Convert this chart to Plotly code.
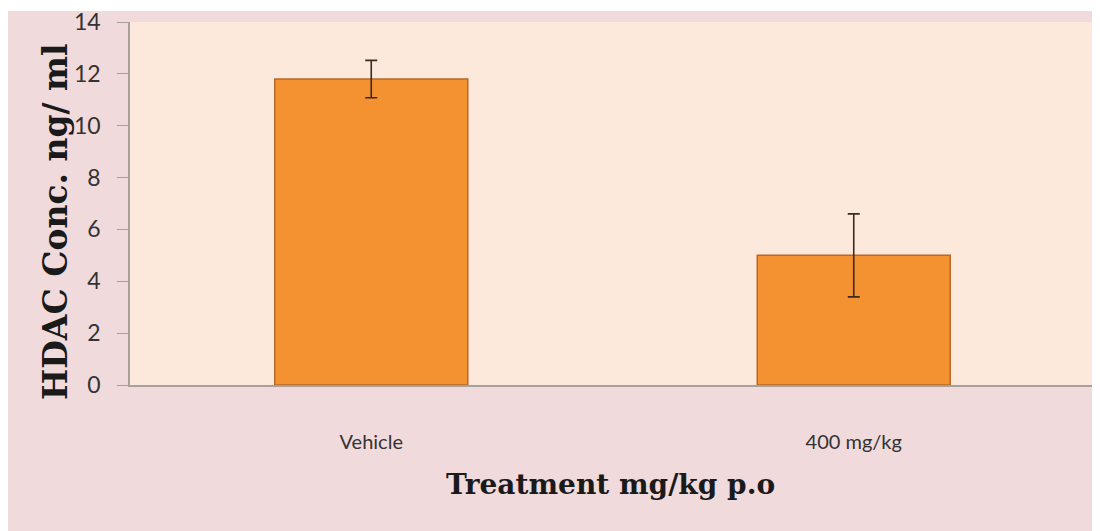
import plotly.graph_objects as go

categories = ["Vehicle", "400 mg/kg"]
values = [11.8, 5.0]
errors = [0.72, 1.6]
y_ticks = [0, 2, 4, 6, 8, 10, 12, 14]

# figure sits inside an 8px page margin
W, H = 1092, 523
L, R, T, B = 122, 5, 14, 146
PW = W - L - R
PH = H - T - B

def px(xf):
    return (xf - L) / PW

def py(yf):
    return (H - B - yf) / PH

fig = go.Figure()
fig.add_trace(go.Bar(
    x=categories, y=values, width=0.4,
    marker=dict(color="#f49130", line=dict(color="#b5682a", width=1.5)),
    error_y=dict(type="data", array=errors, visible=True, color="#3a2a20",
                 thickness=1.6, width=6),
))

fig.update_layout(
    width=W, height=H,
    margin=dict(l=L, r=R, t=T, b=B, pad=0, autoexpand=False),
    paper_bgcolor="white",
    plot_bgcolor="#fce9db",
    showlegend=False,
    shapes=[
        dict(type="rect", xref="paper", yref="paper", layer="below",
             x0=px(-1), x1=px(1089), y0=py(523), y1=py(3),
             fillcolor="#f0dadb", line=dict(width=0)),
        dict(type="rect", xref="paper", yref="paper", layer="below",
             x0=0, x1=1, y0=0, y1=1,
             fillcolor="#fce9db", line=dict(width=0)),
    ],
    annotations=[
        dict(text="<b>HDAC Conc. ng/ ml</b>", xref="paper", yref="paper",
             x=px(47), y=py(214),
             xanchor="center", yanchor="middle", textangle=-90, showarrow=False,
             font=dict(family="DejaVu Serif", size=33, color="#1a1a1a")),
        dict(text="<b>Treatment mg/kg p.o</b>", xref="paper", yref="paper",
             x=px(602), y=py(476),
             xanchor="center", yanchor="middle", showarrow=False,
             font=dict(family="DejaVu Serif", size=28, color="#1a1a1a")),
    ],
)

fig.update_yaxes(
    range=[0, 14], tickvals=y_ticks, ticktext=[str(v) for v in y_ticks],
    showgrid=False, zeroline=False, automargin=False,
    showline=True, linecolor="#a8a09a", linewidth=1.5,
    ticks="outside", ticklen=11, tickcolor="#a8a09a", ticklabelstandoff=12,
    ticklabeloverflow="allow",
    tickfont=dict(family="Lato", size=23, color="#333333"),
)
fig.update_xaxes(
    showgrid=False, showline=True, linecolor="#a8a09a", linewidth=2,
    ticks="", ticklabelstandoff=38, automargin=False,
    tickfont=dict(family="Lato", size=20, color="#333333"),
)

fig.write_html("out.html")
